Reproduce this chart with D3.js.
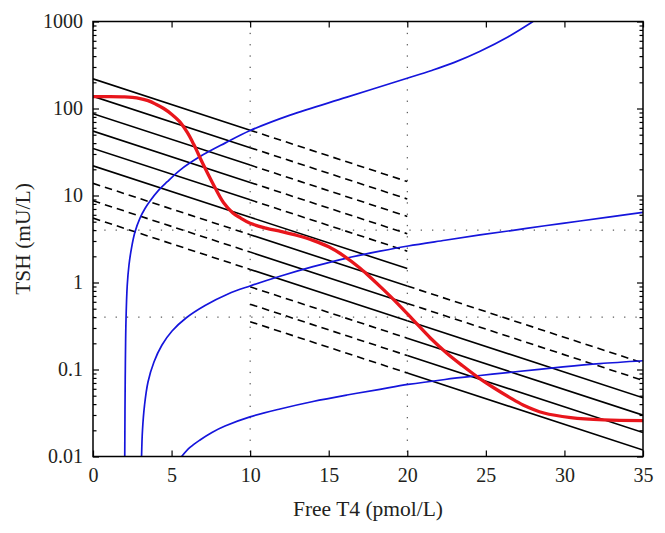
<!DOCTYPE html>
<html><head><meta charset="utf-8">
<script src="https://cdn.jsdelivr.net/npm/d3@7"></script>
<style>body{margin:0;background:#fff}svg{display:block}</style>
</head><body>
<svg id="c" width="665" height="533"></svg>
<script>
// ---- data ----
const xTicks = [0, 5, 10, 15, 20, 25, 30, 35];
const yTicks = [0.01, 0.1, 1, 10, 100, 1000];
const yTickLabels = ["0.01", "0.1", "1", "10", "100", "1000"];
const refFT4 = [10, 20];
const refTSH = [0.4, 4];

// parallel straight lines (straight in log TSH): TSH at FT4 = 0 and common decay
const setLineTSH0 = [219, 138, 87, 55, 34.7, 21.9, 13.8, 8.7, 5.5, 3.47, 2.19, 1.38];
const setLineDecadesPerUnit = 0.059;
const segBounds = [0, 10, 20, 35];
const setLineStyles = [
  ["S", "D", null],
  ["S", "D", null],
  ["S", "D", null],
  ["S", "D", null],
  ["S", "D", null],
  ["S", "S", null],
  ["D", "S", "D"],
  ["D", "S", "D"],
  ["D", "S", "S"],
  [null, "D", "S"],
  [null, "D", "S"],
  [null, "D", "S"]
];

const redFT4 = [0, 1, 2, 2.5, 3, 3.5, 4, 4.5, 5, 5.5, 6, 6.4, 7.0, 7.65, 8.3, 8.9, 9.4, 10, 11, 12, 13, 14, 15, 16, 17, 17.4, 18.5, 19.4, 20.4, 21.45, 22.5, 23.5, 24.5, 25.5, 26.5, 27.4, 28.7, 30.4, 32.5, 35];
const redTSH = [137, 137, 136, 134, 130, 123, 112, 100, 86, 71, 53, 39, 23, 13.5, 8.3, 6.3, 5.5, 4.79, 4.22, 3.85, 3.47, 3.05, 2.57, 2.0, 1.46, 1.26, 0.822, 0.569, 0.367, 0.232, 0.155, 0.111, 0.0813, 0.0617, 0.0479, 0.0389, 0.0316, 0.028, 0.0263, 0.0258];

const blue1FT4 = [2.02, 2.05, 2.1, 2.18, 2.29, 2.45, 2.67, 2.99, 3.31, 3.63, 4.14, 4.71, 5.54, 6.81, 8.4, 10, 12.54, 16.16, 20.04, 21.5, 23.0, 24.6, 26.4, 28.0];
const blue1TSH = [0.01, 0.076, 0.37, 0.935, 1.59, 2.49, 3.8, 5.5, 7.1, 8.65, 11.3, 14.3, 19.6, 28, 40, 55.8, 84, 135, 224, 272, 339, 452, 664, 1000];

const blue2FT4 = [3.09, 3.15, 3.28, 3.5, 3.88, 4.39, 5.03, 5.92, 7.13, 8.59, 9.99, 11.9, 14.0, 16.16, 18.26, 20.05, 22.4, 24.63, 26.73, 28.76, 30.99, 33.03, 35];
const blue2TSH = [0.01, 0.0202, 0.039, 0.0718, 0.122, 0.191, 0.277, 0.391, 0.544, 0.738, 0.912, 1.18, 1.52, 1.91, 2.29, 2.63, 3.06, 3.52, 3.98, 4.49, 5.09, 5.72, 6.41];

const blue3FT4 = [5.64, 6.17, 6.81, 7.57, 8.4, 9.99, 11.9, 14.0, 16.16, 18.26, 20.05, 22.4, 24.63, 26.73, 29.91, 32.26, 35];
const blue3TSH = [0.01, 0.0127, 0.0155, 0.0189, 0.0224, 0.0285, 0.0352, 0.0429, 0.0509, 0.0592, 0.0673, 0.0768, 0.0853, 0.0936, 0.107, 0.1167, 0.126];

// ---- layout ----
const L = 93, R = 643, T = 21.5, B = 456.5;
const FONT = "'Liberation Serif', 'Times New Roman', serif";
const TXT = "#231f20";

const svg = d3.select("#c");
const x = d3.scaleLinear().domain([0, 35]).range([L, R]);
const y = d3.scaleLog().domain([0.01, 1000]).range([B, T]);

svg.append("defs").append("clipPath").attr("id", "clip")
  .append("rect").attr("x", L).attr("y", T).attr("width", R - L).attr("height", B - T);

const plot = svg.append("g").attr("clip-path", "url(#clip)");

// dotted reference lines
plot.selectAll(".vref").data(refFT4).join("line")
  .attr("x1", d => x(d)).attr("x2", d => x(d)).attr("y1", T).attr("y2", B)
  .attr("stroke", "#333").attr("stroke-width", 1).attr("stroke-dasharray", "1.3,10");
plot.selectAll(".href").data(refTSH).join("line")
  .attr("x1", L).attr("x2", R).attr("y1", d => y(d)).attr("y2", d => y(d))
  .attr("stroke", "#333").attr("stroke-width", 1).attr("stroke-dasharray", "1.3,10");

// parallel lines
const tshAt = (t0, f) => t0 * Math.pow(10, -setLineDecadesPerUnit * f);
const segs = [];
setLineTSH0.forEach((t0, i) => {
  setLineStyles[i].forEach((st, j) => {
    if (!st) return;
    const a = segBounds[j], b = segBounds[j + 1];
    segs.push({ a, b, ya: tshAt(t0, a), yb: tshAt(t0, b), st });
  });
});
plot.selectAll(".seg").data(segs).join("line")
  .attr("x1", d => x(d.a)).attr("y1", d => y(d.ya))
  .attr("x2", d => x(d.b)).attr("y2", d => y(d.yb))
  .attr("stroke", "#000").attr("stroke-width", 1.6)
  .attr("stroke-dasharray", d => d.st === "D" ? "7.5,5" : null);

const line = d3.line().x(d => x(d[0])).y(d => y(d[1])).curve(d3.curveCatmullRom.alpha(0.5));
const zip = (a, b) => a.map((v, i) => [v, b[i]]);

[[blue1FT4, blue1TSH], [blue2FT4, blue2TSH], [blue3FT4, blue3TSH]].forEach(([fx, fy]) => {
  plot.append("path").attr("d", line(zip(fx, fy)))
    .attr("fill", "none").attr("stroke", "#1515dc").attr("stroke-width", 1.7);
});

plot.append("path").attr("d", line(zip(redFT4, redTSH)))
  .attr("fill", "none").attr("stroke", "#e8161c").attr("stroke-width", 3.3)
  .attr("stroke-linejoin", "round");

// ---- axes ----
const minorY = y.ticks().filter(v => !yTicks.some(t => Math.abs(t - v) / t < 1e-6));

function styleAxis(g) {
  g.select(".domain").remove();
  g.selectAll("line").attr("stroke", "#000").attr("stroke-width", 1.2);
  g.selectAll("text").attr("font-family", FONT).attr("font-size", 20).attr("fill", TXT);
}

svg.append("g").attr("transform", `translate(0,${B})`)
  .call(d3.axisBottom(x).tickValues(xTicks).tickFormat(d3.format("d")).tickSizeInner(-6).tickSizeOuter(0).tickPadding(11))
  .call(styleAxis);
svg.append("g").attr("transform", `translate(0,${T})`)
  .call(d3.axisTop(x).tickValues(xTicks).tickFormat("").tickSizeInner(-6).tickSizeOuter(0))
  .call(styleAxis);
svg.append("g").attr("transform", `translate(${L},0)`)
  .call(d3.axisLeft(y).tickValues(yTicks).tickFormat((d, i) => yTickLabels[i]).tickSizeInner(-6).tickSizeOuter(0).tickPadding(10))
  .call(styleAxis);
svg.append("g").attr("transform", `translate(${L},0)`)
  .call(d3.axisLeft(y).tickValues(minorY).tickFormat("").tickSizeInner(-3.5).tickSizeOuter(0))
  .call(styleAxis);
svg.append("g").attr("transform", `translate(${R},0)`)
  .call(d3.axisRight(y).tickValues(yTicks).tickFormat("").tickSizeInner(-6).tickSizeOuter(0))
  .call(styleAxis);
svg.append("g").attr("transform", `translate(${R},0)`)
  .call(d3.axisRight(y).tickValues(minorY).tickFormat("").tickSizeInner(-3.5).tickSizeOuter(0))
  .call(styleAxis);

// frame
svg.append("rect").attr("x", L).attr("y", T).attr("width", R - L).attr("height", B - T)
  .attr("fill", "none").attr("stroke", "#000").attr("stroke-width", 1.5);

// titles
svg.append("text").attr("x", (L + R) / 2).attr("y", 516).attr("text-anchor", "middle")
  .attr("font-family", FONT).attr("font-size", 21.5).attr("fill", TXT).text("Free T4 (pmol/L)");
svg.append("text").attr("transform", `translate(30,${(T + B) / 2}) rotate(-90)`).attr("text-anchor", "middle")
  .attr("font-family", FONT).attr("font-size", 21.5).attr("fill", TXT).text("TSH (mU/L)");
</script>
</body></html>
